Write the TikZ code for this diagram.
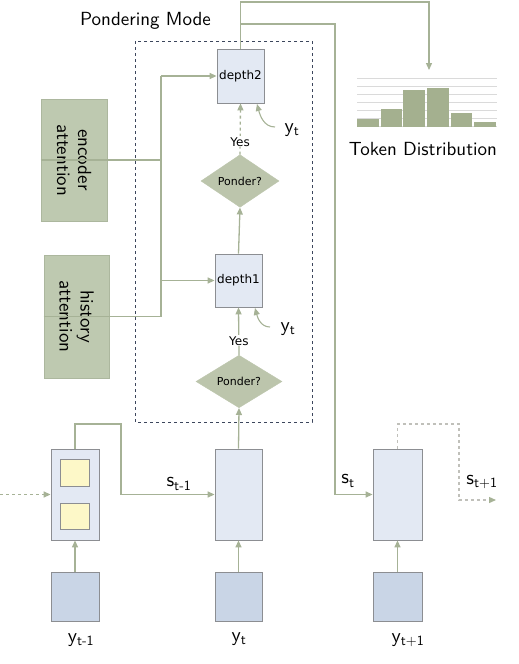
\documentclass[tikz,border=0pt]{standalone}
\usepackage{fontspec}
\newfontfamily\dv{DejaVu Sans}
\newfontfamily\lmsten{lmsans10-regular.otf}
\usetikzlibrary{arrows.meta,shapes.geometric}
\definecolor{lg}{RGB}{166,178,150}
\definecolor{bgray}{RGB}{140,142,146}
\definecolor{lblue}{RGB}{227,233,243}
\definecolor{inblue}{RGB}{201,213,230}
\definecolor{yel}{RGB}{253,248,200}
\definecolor{attf}{RGB}{190,201,176}
\definecolor{attd}{RGB}{172,183,158}
\definecolor{diaf}{RGB}{188,197,172}
\definecolor{barc}{RGB}{164,176,143}
\definecolor{gridc}{RGB}{218,218,218}
\definecolor{dashb}{RGB}{60,70,92}
\definecolor{dgray}{RGB}{192,192,186}
\begin{document}
\begin{tikzpicture}[x=1pt,y=-1pt,
  conn/.style={draw=lg, line width=1.3pt},
  arr/.style={conn, -{Triangle[length=7pt,width=6pt,color=lg]}},
  cell/.style={draw=bgray, fill=lblue, line width=0.8pt, inner sep=0pt},
  inbox/.style={draw=bgray, fill=inblue, line width=0.8pt, inner sep=0pt, minimum height=49pt},
  yelbox/.style={draw=bgray, fill=yel, line width=0.8pt, inner sep=0pt, minimum width=29pt},
  attbox/.style={draw=attd, fill=attf, line width=0.8pt, inner sep=0pt, align=center,
    font=\lmsten\fontsize{19}{21}\selectfont, rotate=-90},
  ponder/.style={diamond, draw=diaf, fill=diaf, inner sep=0pt, minimum height=43pt,
    font=\dv\fontsize{11}{13}\selectfont},
  lbl/.style={font=\lmsten\fontsize{20}{22}\selectfont, inner sep=0pt},
  title/.style={font=\lmsten\fontsize{19}{21}\selectfont, inner sep=0pt},
  yeslbl/.style={fill=white, inner sep=1pt, font=\dv\fontsize{12}{14}\selectfont}
]
\useasboundingbox (0,0) rectangle (519,664);

% pondering box
\draw[dashb, dashed, line width=0.8pt] (135,41) rectangle (312,422);
\node[title] (pm) at (145.5,21) {Pondering Mode};

% nodes
\node[cell, minimum width=47pt, minimum height=54pt, font=\dv\fontsize{12}{14}\selectfont] (depth2) at (240.5,76) {depth2};
\node[cell, minimum width=47pt, minimum height=53pt, font=\dv\fontsize{12}{14}\selectfont] (depth1) at (238.5,280.5) {depth1};
\node[ponder, minimum width=78pt] (p2) at (240,181) {Ponder?};
\node[ponder, minimum width=86pt] (p1) at (239,381.5) {Ponder?};
\node[attbox, minimum width=122pt, minimum height=66pt] (enc) at (74,160) {encoder\\attention};
\node[attbox, minimum width=123pt, minimum height=65pt] (hist) at (76.5,316.5) {history\\attention};

\node[cell, minimum width=48pt, minimum height=91pt] (h0) at (75,494.5) {};
\node[yelbox, minimum height=27pt] (ya) at (74.5,472.5) {};
\node[yelbox, minimum height=26pt] (yb) at (74.5,516) {};
\node[cell, minimum width=47pt, minimum height=91pt] (h1) at (238.5,494.5) {};
\node[cell, minimum width=49pt, minimum height=91pt] (h2) at (397.5,494.5) {};
\node[inbox, minimum width=48pt] (in0) at (75,596.5) {};
\node[inbox, minimum width=47pt] (in1) at (238.5,596.5) {};
\node[inbox, minimum width=49pt] (in2) at (397.5,596.5) {};

% labels
\node[lbl] (yl0) at (81,640) {y\textsubscript{t-1}};
\node[lbl] (yl1) at (239,639) {y\textsubscript{t}};
\node[lbl] (yl2) at (408,640) {y\textsubscript{t+1}};
\node[lbl] (sl0) at (179,484) {s\textsubscript{t-1}};
\node[lbl] (sl1) at (348,481) {s\textsubscript{t}};
\node[lbl] (sl2) at (482,482) {s\textsubscript{t+1}};
\node[lbl] (yd2) at (292,130) {y\textsubscript{t}};
\node[lbl] (yd1) at (288,329) {y\textsubscript{t}};

% histogram
\foreach \yy in {78,86,...,126} \draw[gridc, line width=0.6pt] (357,\yy) -- (497,\yy);
\fill[barc] (357,126.5) rectangle (379,119);
\fill[barc] (381,126.5) rectangle (402,109);
\fill[barc] (403,126.5) rectangle (425,90);
\fill[barc] (427,126.5) rectangle (449,88);
\fill[barc] (451,126.5) rectangle (472,113);
\fill[barc] (474,126.5) rectangle (496,122);
\node[title] (td) at (423,149) {Token Distribution};
\coordinate (htop) at (429,70);

% connectors inside pondering
\draw[arr] (p1.north) -- node[yeslbl, pos=0.3] (yes1) {Yes} (depth1.south);
\draw[arr, dashed] (p2.north) -- node[yeslbl, pos=0.25] (yes2) {Yes} (depth2.south);
\draw[arr] (depth1.north) -- (p2.south);
\draw[arr] (h1.north) -- (p1.south);

% attention connectors
\coordinate (jt) at (161,76);
\draw[conn] (hist.south) -- (hist.south -| jt) -- (jt);
\draw[conn] (enc.south) -- (enc.south -| jt);
\draw[arr] (jt) -- (depth2.west);
\draw[arr] (depth1.west -| jt) -- (depth1.west);

% y_t curved arrows
\draw[arr, line width=1.1pt] (275,127) to[out=180,in=-75] (257,104);
\draw[arr, line width=1.1pt] (270,327) to[out=180,in=-75] (255,308);

% output connectors
\coordinate (br) at (240.5,24);
\draw[arr] (depth2.north) -- (240.5,2) -- (429,2) -- (htop);
\draw[arr] (br) -- (335,24) -- (335,494.5) -- (h2.west);

% recurrent connections
\draw[arr] (h0.north) -- (h0.north |- 0,424) -- (121,424) -- (121,494.5) -- (h1.west);
\draw[arr, dashed] (0,494.5) -- (h0.west);
\coordinate (outend) at (496,500);
\draw[draw=dgray, dashed, line width=1.3pt, -{Triangle[length=7pt,width=6pt,color=lg]}]
  (h2.north) -- (h2.north |- 0,424) -- (459,424) -- (459,500) -- (outend);

% input arrows
\draw[arr] (in0.north) -- (h0.south);
\draw[arr] (in1.north) -- (h1.south);
\draw[arr] (in2.north) -- (h2.south);
\end{tikzpicture}
\end{document}
